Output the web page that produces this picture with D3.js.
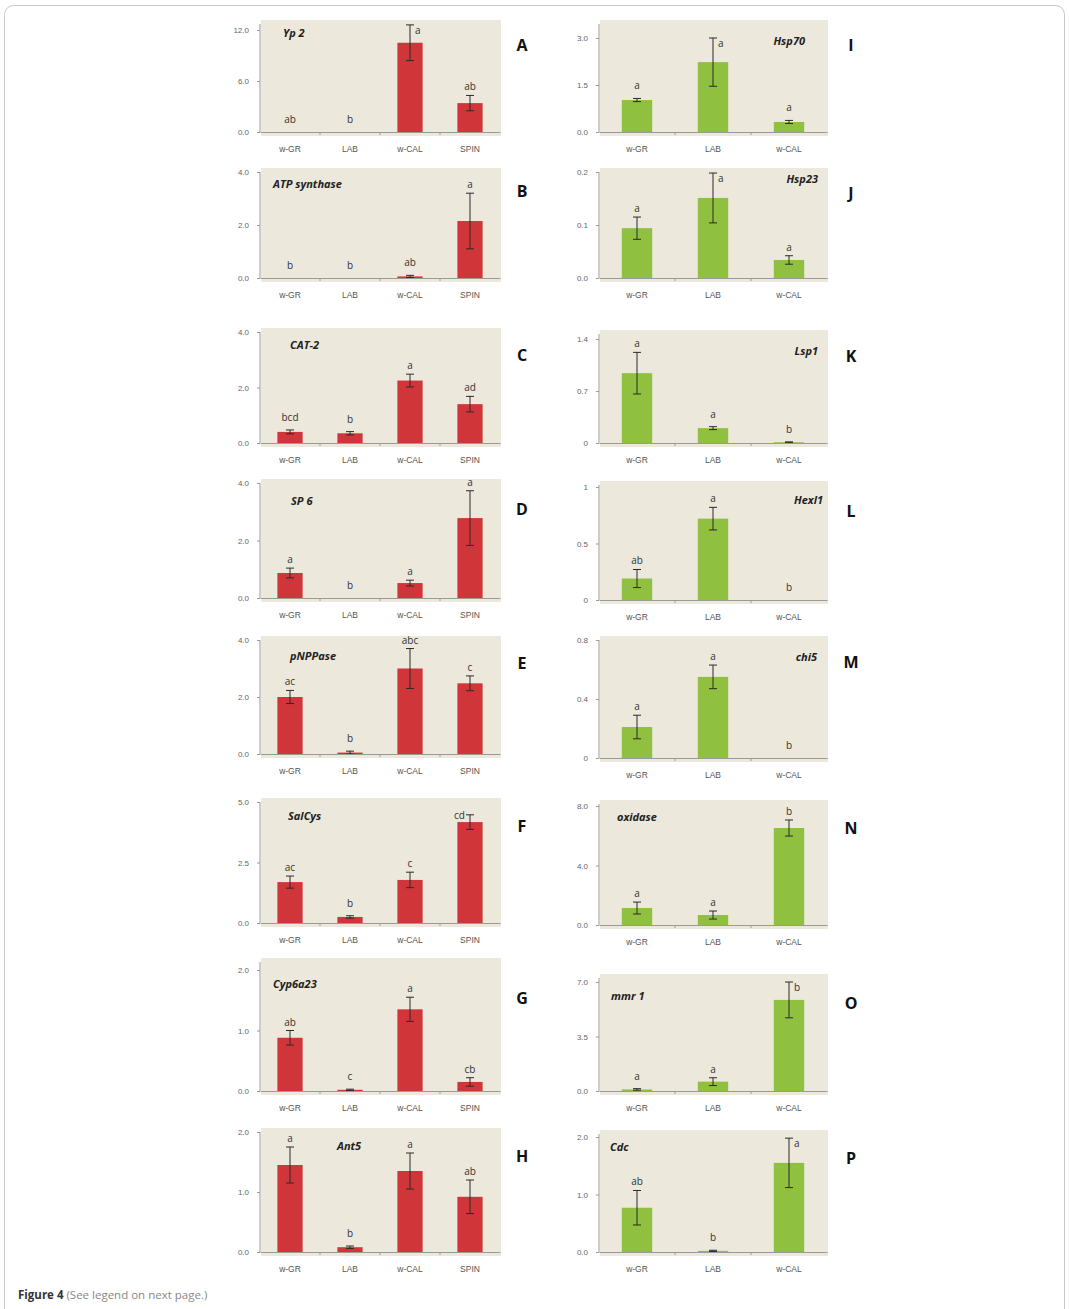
<!DOCTYPE html>
<html>
<head>
<meta charset="utf-8">
<script src="https://cdn.jsdelivr.net/npm/d3@7"></script>
<style>
  body { margin: 0; background: #fff; }
  svg { display: block; font-family: "Open Sans", "Liberation Sans", Arial, sans-serif; }
</style>
</head>
<body>
<script>
// categories
const leftCats = ["w-GR", "LAB", "w-CAL", "SPIN"];
const rightCats = ["w-GR", "LAB", "w-CAL"];

// left column genes (means, error, significance letters, y ticks)
const yp2Vals = [0, 0, 10.5, 3.4];
const yp2Errs = [0, 0, 2.1, 0.9];
const yp2Sig = ["ab", "b", "a", "ab"];
const yp2Ticks = ["0.0", "6.0", "12.0"];

const atpVals = [0, 0, 0.06, 2.15];
const atpErrs = [0, 0, 0.04, 1.05];
const atpSig = ["b", "b", "ab", "a"];
const atpTicks = ["0.0", "2.0", "4.0"];

const cat2Vals = [0.4, 0.35, 2.25, 1.4];
const cat2Errs = [0.07, 0.06, 0.23, 0.28];
const cat2Sig = ["bcd", "b", "a", "ad"];
const cat2Ticks = ["0.0", "2.0", "4.0"];

const sp6Vals = [0.87, 0, 0.52, 2.78];
const sp6Errs = [0.17, 0, 0.1, 0.95];
const sp6Sig = ["a", "b", "a", "a"];
const sp6Ticks = ["0.0", "2.0", "4.0"];

const pnppVals = [2.0, 0.05, 3.0, 2.48];
const pnppErrs = [0.23, 0.05, 0.7, 0.26];
const pnppSig = ["ac", "b", "abc", "c"];
const pnppTicks = ["0.0", "2.0", "4.0"];

const salVals = [1.69, 0.25, 1.78, 4.17];
const salErrs = [0.25, 0.05, 0.32, 0.3];
const salSig = ["ac", "b", "c", "cd"];
const salTicks = ["0.0", "2.5", "5.0"];

const cypVals = [0.88, 0.02, 1.35, 0.15];
const cypErrs = [0.12, 0.01, 0.2, 0.07];
const cypSig = ["ab", "c", "a", "cb"];
const cypTicks = ["0.0", "1.0", "2.0"];

const antVals = [1.45, 0.08, 1.35, 0.92];
const antErrs = [0.3, 0.02, 0.3, 0.28];
const antSig = ["a", "b", "a", "ab"];
const antTicks = ["0.0", "1.0", "2.0"];

// right column genes
const hsp70Vals = [1.02, 2.23, 0.32];
const hsp70Errs = [0.05, 0.77, 0.05];
const hsp70Sig = ["a", "a", "a"];
const hsp70Ticks = ["0.0", "1.5", "3.0"];

const hsp23Vals = [0.094, 0.151, 0.034];
const hsp23Errs = [0.021, 0.047, 0.008];
const hsp23Sig = ["a", "a", "a"];
const hsp23Ticks = ["0.0", "0.1", "0.2"];

const lspVals = [0.94, 0.2, 0.01];
const lspErrs = [0.28, 0.02, 0.005];
const lspSig = ["a", "a", "b"];
const lspTicks = ["0", "0.7", "1.4"];

const hexVals = [0.19, 0.72, 0];
const hexErrs = [0.08, 0.1, 0];
const hexSig = ["ab", "a", "b"];
const hexTicks = ["0", "0.5", "1"];

const chiVals = [0.21, 0.55, 0];
const chiErrs = [0.08, 0.08, 0];
const chiSig = ["a", "a", "b"];
const chiTicks = ["0", "0.4", "0.8"];

const oxVals = [1.14, 0.67, 6.52];
const oxErrs = [0.4, 0.27, 0.54];
const oxSig = ["a", "a", "b"];
const oxTicks = ["0.0", "4.0", "8.0"];

const mmrVals = [0.1, 0.6, 5.85];
const mmrErrs = [0.05, 0.25, 1.15];
const mmrSig = ["a", "a", "b"];
const mmrTicks = ["0.0", "3.5", "7.0"];

const cdcVals = [0.77, 0.02, 1.55];
const cdcErrs = [0.3, 0.01, 0.43];
const cdcSig = ["ab", "b", "a"];
const cdcTicks = ["0.0", "1.0", "2.0"];

// layout of each panel (positions kept apart from the data)
const panels = [
  {id: "A", gene: "Yp 2", cats: leftCats, vals: yp2Vals, errs: yp2Errs, sig: yp2Sig, ticks: yp2Ticks, col: 0, top: 30, zero: 132, bg: 20, tx: 283, ty: 37, ta: "start", ly: 51, side: ["top", "top", "right", "top"]},
  {id: "B", gene: "ATP synthase", cats: leftCats, vals: atpVals, errs: atpErrs, sig: atpSig, ticks: atpTicks, col: 0, top: 172, zero: 278, bg: 168, tx: 273, ty: 188, ta: "start", ly: 197},
  {id: "C", gene: "CAT-2", cats: leftCats, vals: cat2Vals, errs: cat2Errs, sig: cat2Sig, ticks: cat2Ticks, col: 0, top: 332, zero: 443, bg: 328, tx: 290, ty: 349, ta: "start", ly: 361},
  {id: "D", gene: "SP 6", cats: leftCats, vals: sp6Vals, errs: sp6Errs, sig: sp6Sig, ticks: sp6Ticks, col: 0, top: 483, zero: 598, bg: 479, tx: 291, ty: 505, ta: "start", ly: 515},
  {id: "E", gene: "pNPPase", cats: leftCats, vals: pnppVals, errs: pnppErrs, sig: pnppSig, ticks: pnppTicks, col: 0, top: 640, zero: 754, bg: 636, tx: 290, ty: 660, ta: "start", ly: 669},
  {id: "F", gene: "SalCys", cats: leftCats, vals: salVals, errs: salErrs, sig: salSig, ticks: salTicks, col: 0, top: 802, zero: 923, bg: 798, tx: 288, ty: 820, ta: "start", ly: 832, side: ["top", "top", "top", "left"]},
  {id: "G", gene: "Cyp6a23", cats: leftCats, vals: cypVals, errs: cypErrs, sig: cypSig, ticks: cypTicks, col: 0, top: 970, zero: 1091, bg: 958, tx: 273, ty: 988, ta: "start", ly: 1004},
  {id: "H", gene: "Ant5", cats: leftCats, vals: antVals, errs: antErrs, sig: antSig, ticks: antTicks, col: 0, top: 1132, zero: 1252, bg: 1128, tx: 337, ty: 1150, ta: "start", ly: 1162},
  {id: "I", gene: "Hsp70", cats: rightCats, vals: hsp70Vals, errs: hsp70Errs, sig: hsp70Sig, ticks: hsp70Ticks, col: 1, top: 38, zero: 132, bg: 20, tx: 805, ty: 45, ta: "end", ly: 51, side: ["top", "right", "top"]},
  {id: "J", gene: "Hsp23", cats: rightCats, vals: hsp23Vals, errs: hsp23Errs, sig: hsp23Sig, ticks: hsp23Ticks, col: 1, top: 172, zero: 278, bg: 168, tx: 818, ty: 183, ta: "end", ly: 199, side: ["top", "right", "top"]},
  {id: "K", gene: "Lsp1", cats: rightCats, vals: lspVals, errs: lspErrs, sig: lspSig, ticks: lspTicks, col: 1, top: 339, zero: 443, bg: 330, tx: 818, ty: 355, ta: "end", ly: 362},
  {id: "L", gene: "Hexl1", cats: rightCats, vals: hexVals, errs: hexErrs, sig: hexSig, ticks: hexTicks, col: 1, top: 487, zero: 600, bg: 481, tx: 823, ty: 504, ta: "end", ly: 517},
  {id: "M", gene: "chi5", cats: rightCats, vals: chiVals, errs: chiErrs, sig: chiSig, ticks: chiTicks, col: 1, top: 640, zero: 758, bg: 636, tx: 817, ty: 661, ta: "end", ly: 668},
  {id: "N", gene: "oxidase", cats: rightCats, vals: oxVals, errs: oxErrs, sig: oxSig, ticks: oxTicks, col: 1, top: 806, zero: 925, bg: 800, tx: 617, ty: 821, ta: "start", ly: 834},
  {id: "O", gene: "mmr 1", cats: rightCats, vals: mmrVals, errs: mmrErrs, sig: mmrSig, ticks: mmrTicks, col: 1, top: 982, zero: 1091, bg: 974, tx: 611, ty: 1000, ta: "start", ly: 1009, side: ["top", "top", "right"]},
  {id: "P", gene: "Cdc", cats: rightCats, vals: cdcVals, errs: cdcErrs, sig: cdcSig, ticks: cdcTicks, col: 1, top: 1137, zero: 1252, bg: 1130, tx: 610, ty: 1151, ta: "start", ly: 1164, side: ["top", "top", "right"]}
];

const width = 1069;
const height = 1309;
const colRange = [[260, 500], [599, 827]];
const colPad = [[0.58, 0.29], [0.6, 0.3]];
const colLetterX = [522, 851];
const barColor = ["#d03639", "#8fc03f"];
const beige = "#ece8dc";

const svg = d3.select("body").append("svg")
  .attr("width", width)
  .attr("height", height);

// page frame
svg.append("rect")
  .attr("x", 4.5).attr("y", 5.5)
  .attr("width", 1060).attr("height", 1330)
  .attr("rx", 9)
  .attr("fill", "none")
  .attr("stroke", "#c8c8c8");

panels.forEach(p => {
  const xr = colRange[p.col];
  const x = d3.scaleBand()
    .domain(p.cats)
    .range(xr)
    .paddingInner(colPad[p.col][0])
    .paddingOuter(colPad[p.col][1]);
  const tickVals = p.ticks.map(Number);
  const y = d3.scaleLinear()
    .domain([0, d3.max(tickVals)])
    .range([p.zero, p.top]);

  const g = svg.append("g").attr("class", "panel-" + p.id);

  // beige plot background
  g.append("rect")
    .attr("x", xr[0] + 1)
    .attr("y", p.bg)
    .attr("width", xr[1] - xr[0])
    .attr("height", p.zero + 4 - p.bg)
    .attr("fill", beige);

  // bars
  g.selectAll(".bar")
    .data(p.vals)
    .enter().append("rect")
    .attr("class", "bar")
    .attr("x", (d, i) => x(p.cats[i]))
    .attr("y", d => y(d))
    .attr("width", x.bandwidth())
    .attr("height", d => p.zero - y(d))
    .attr("fill", barColor[p.col]);

  // error bars
  const cap = 4;
  p.vals.forEach((v, i) => {
    const e = p.errs[i];
    if (e <= 0) return;
    const cx = x(p.cats[i]) + x.bandwidth() / 2;
    const y1 = y(v + e), y0 = y(Math.max(0, v - e));
    g.append("line").attr("x1", cx).attr("x2", cx).attr("y1", y1).attr("y2", y0)
      .attr("stroke", "#2a2a2a").attr("stroke-width", 1);
    [y1, y0].forEach(yy => {
      g.append("line").attr("x1", cx - cap).attr("x2", cx + cap).attr("y1", yy).attr("y2", yy)
        .attr("stroke", "#2a2a2a").attr("stroke-width", 1);
    });
  });

  // significance letters
  p.sig.forEach((s, i) => {
    const cx = x(p.cats[i]) + x.bandwidth() / 2;
    const yTop = y(p.vals[i] + p.errs[i]);
    const side = p.side ? p.side[i] : "top";
    const t = g.append("text")
      .attr("font-size", "10px")
      .attr("fill", "#333")
      .text(s);
    if (side === "right") {
      t.attr("x", cx + 5).attr("y", yTop + 9).attr("text-anchor", "start");
    } else if (side === "left") {
      t.attr("x", cx - 5).attr("y", yTop + 4).attr("text-anchor", "end");
    } else {
      t.attr("x", cx).attr("y", yTop - (p.errs[i] > 0.02 * d3.max(tickVals) ? 5 : 9)).attr("text-anchor", "middle");
    }
  });

  // y axis
  const yAxis = g.append("g")
    .attr("transform", "translate(" + xr[0] + ",0)")
    .call(d3.axisLeft(y).tickValues(tickVals).tickFormat((d, i) => p.ticks[i]).tickSize(3).tickPadding(8));
  yAxis.select(".domain").attr("stroke", "#9a9a9a").attr("d", "M0," + (p.bg + 4) + "V" + p.zero);
  yAxis.selectAll(".tick line").attr("stroke", "#9a9a9a");
  yAxis.selectAll("text").attr("font-size", "8px").attr("fill", "#666");

  // x axis
  const xAxis = g.append("g")
    .attr("transform", "translate(0," + p.zero + ")")
    .call(d3.axisBottom(x).tickSize(0).tickPadding(14));
  xAxis.select(".domain").attr("stroke", "#9a9a9a");
  xAxis.selectAll("text").attr("font-size", "8.5px").attr("fill", "#555");
  // small marks between categories
  p.cats.slice(1).forEach(c => {
    const bx = x(c) - x.step() * x.paddingInner() / 2;
    xAxis.append("line").attr("x1", bx).attr("x2", bx).attr("y1", 0).attr("y2", 3)
      .attr("stroke", "#9a9a9a");
  });

  // gene name
  g.append("text")
    .attr("x", p.tx).attr("y", p.ty)
    .attr("text-anchor", p.ta)
    .attr("font-size", "11px")
    .attr("font-weight", "bold")
    .attr("font-style", "italic")
    .attr("fill", "#222")
    .text(p.gene);

  // panel letter
  g.append("text")
    .attr("x", colLetterX[p.col]).attr("y", p.ly)
    .attr("text-anchor", "middle")
    .attr("font-size", "16px")
    .attr("font-weight", "bold")
    .attr("fill", "#111")
    .text(p.id);
});

// caption
const cap = svg.append("text")
  .attr("x", 18).attr("y", 1299)
  .attr("font-size", "11.5px");
cap.append("tspan").attr("font-weight", "bold").attr("fill", "#333").text("Figure 4");
cap.append("tspan").attr("fill", "#888").text(" (See legend on next page.)");
</script>
</body>
</html>
